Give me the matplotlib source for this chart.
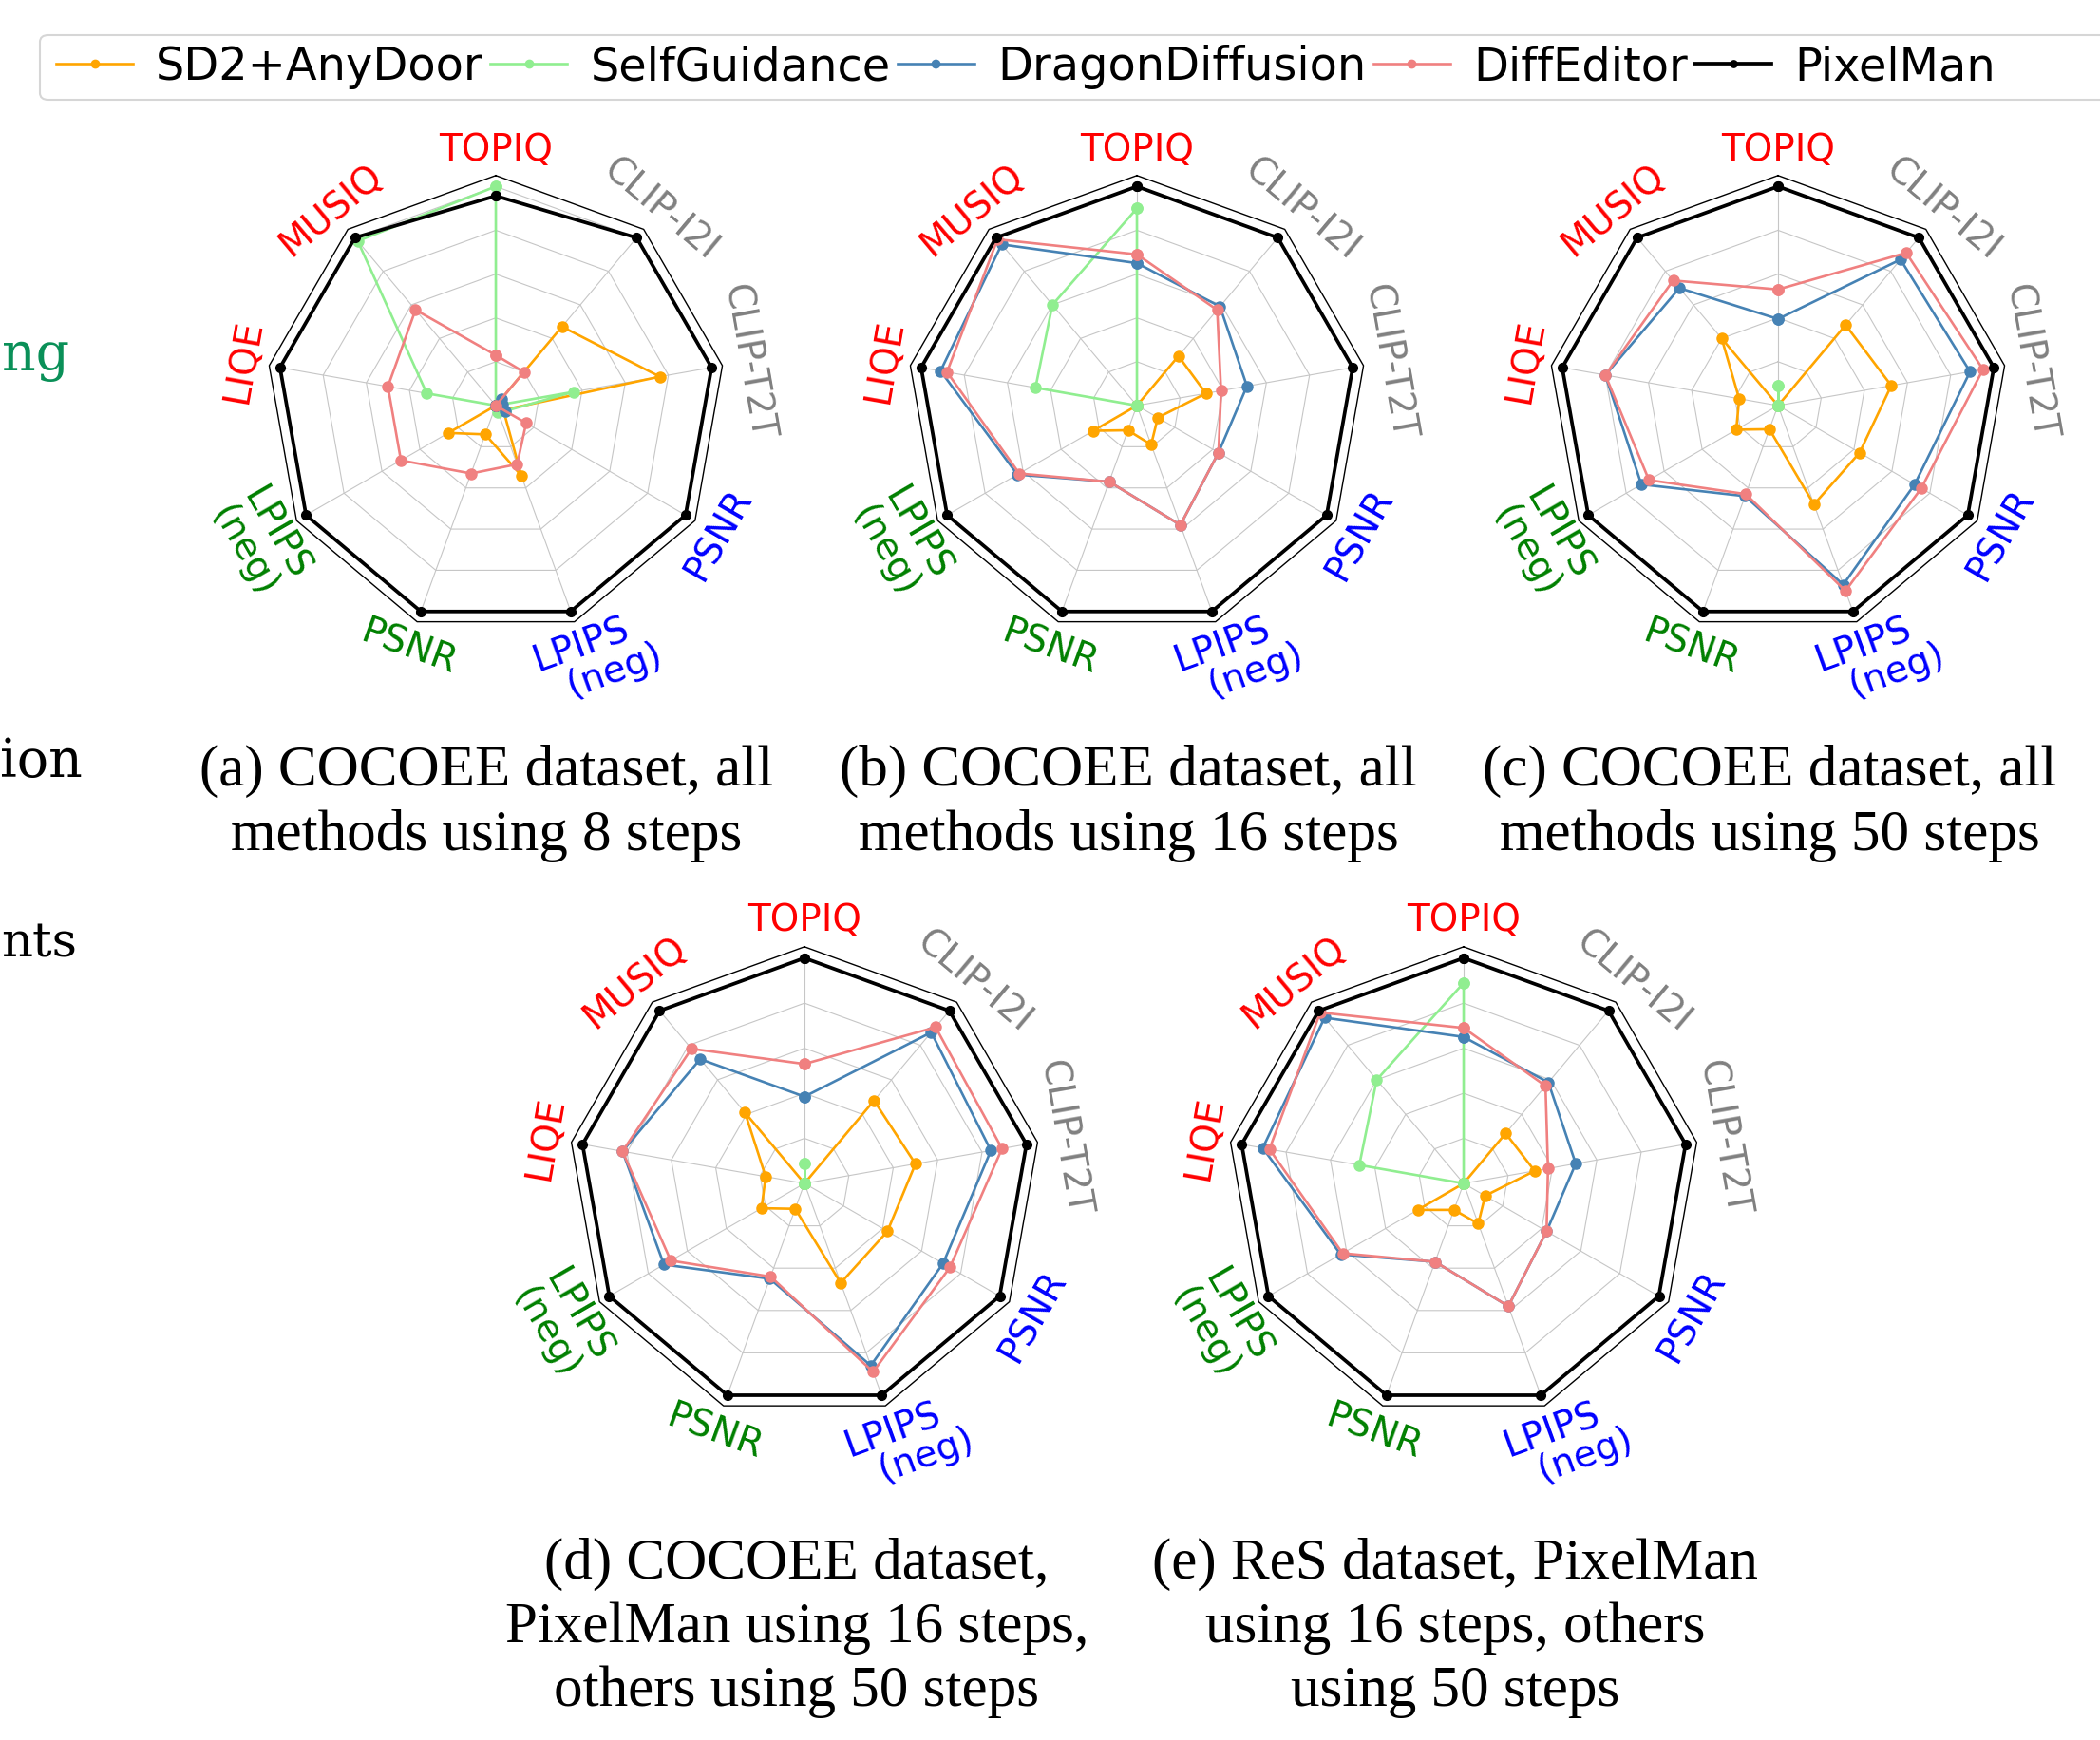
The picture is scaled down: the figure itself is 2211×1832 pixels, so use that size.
import numpy as np
import matplotlib
matplotlib.use("Agg")
import matplotlib.pyplot as plt
from matplotlib.patches import FancyBboxPatch

# axes of every radar, clockwise from the top
metrics = ["TOPIQ", "CLIP-I2I", "CLIP-T2T", "PSNR", "LPIPS\n  (neg)",
           "PSNR", "LPIPS\n(neg)", "LIQE", "MUSIQ"]
metric_colors = ["red", "gray", "gray", "blue", "blue", "green", "green", "red", "red"]

methods = ["SD2+AnyDoor", "SelfGuidance", "DragonDiffusion", "DiffEditor", "PixelMan"]
method_colors = ["orange", "lightgreen", "steelblue", "lightcoral", "black"]

# (a) COCOEE, 8 steps
a_anydoor = [0.0, 0.47, 0.76, 0.04, 0.34, 0.14, 0.25, 0.0, 0.0]
a_selfguid = [1.0, 0.0, 0.36, 0.05, 0.03, 0.0, 0.0, 0.32, 0.98]
a_dragon = [0.0, 0.04, 0.03, 0.05, 0.0, 0.0, 0.0, 0.0, 0.0]
a_diffedit = [0.23, 0.20, 0.0, 0.16, 0.285, 0.33, 0.50, 0.50, 0.57]
a_pixelman = [0.957, 1.0, 1.0, 1.0, 1.0, 1.0, 1.0, 1.0, 1.0]

# (b) COCOEE, 16 steps
b_anydoor = [0.0, 0.295, 0.32, 0.11, 0.19, 0.12, 0.23, 0.0, 0.0]
b_selfguid = [0.90, 0.0, 0.0, 0.0, 0.0, 0.0, 0.0, 0.47, 0.60]
b_dragon = [0.65, 0.59, 0.51, 0.43, 0.58, 0.37, 0.63, 0.91, 0.96]
b_diffedit = [0.69, 0.57, 0.39, 0.43, 0.58, 0.37, 0.62, 0.88, 0.99]
b_pixelman = [1.0, 1.0, 1.0, 1.0, 1.0, 1.0, 1.0, 1.0, 1.0]

# (c) COCOEE, 50 steps
c_anydoor = [0.0, 0.48, 0.525, 0.43, 0.48, 0.115, 0.22, 0.18, 0.40]
c_selfguid = [0.09, 0.0, 0.0, 0.0, 0.0, 0.0, 0.0, 0.0, 0.0]
c_dragon = [0.395, 0.87, 0.89, 0.72, 0.87, 0.44, 0.72, 0.80, 0.70]
c_diffedit = [0.53, 0.91, 0.95, 0.755, 0.90, 0.43, 0.68, 0.80, 0.745]
c_pixelman = [1.0, 1.0, 1.0, 1.0, 1.0, 1.0, 1.0, 1.0, 1.0]

# (d) COCOEE, PixelMan 16 / others 50
d_anydoor = [0.0, 0.48, 0.50, 0.425, 0.47, 0.12, 0.22, 0.175, 0.41]
d_selfguid = [0.09, 0.0, 0.0, 0.0, 0.0, 0.0, 0.0, 0.0, 0.0]
d_dragon = [0.385, 0.875, 0.84, 0.71, 0.86, 0.45, 0.72, 0.82, 0.72]
d_diffedit = [0.53, 0.905, 0.89, 0.745, 0.89, 0.44, 0.685, 0.82, 0.78]
d_pixelman = [1.0, 1.0, 1.0, 1.0, 1.0, 1.0, 1.0, 1.0, 1.0]

# (e) ReS, PixelMan 16 / others 50
e_anydoor = [0.0, 0.29, 0.32, 0.11, 0.19, 0.125, 0.235, 0.0, 0.0]
e_selfguid = [0.89, 0.0, 0.0, 0.0, 0.0, 0.0, 0.0, 0.47, 0.60]
e_dragon = [0.65, 0.585, 0.505, 0.425, 0.58, 0.37, 0.63, 0.905, 0.96]
e_diffedit = [0.69, 0.565, 0.38, 0.425, 0.58, 0.37, 0.62, 0.875, 0.99]
e_pixelman = [1.0, 1.0, 1.0, 1.0, 1.0, 1.0, 1.0, 1.0, 1.0]

captions = [
    "(a) COCOEE dataset, all\nmethods using 8 steps",
    "(b) COCOEE dataset, all\nmethods using 16 steps",
    "(c) COCOEE dataset, all\nmethods using 50 steps",
    "(d) COCOEE dataset,\nPixelMan using 16 steps,\nothers using 50 steps",
    "(e) ReS dataset, PixelMan\nusing 16 steps, others\nusing 50 steps",
]

W, H = 2211, 1833
fig = plt.figure(figsize=(W / 100, H / 100), dpi=100, facecolor="white")

RMAX = 1.05


def radar(cx, cy, r1, series):
    half = RMAX * r1
    ax = fig.add_axes([(cx - half) / W, 1 - (cy + half) / H, 2 * half / W, 2 * half / H],
                      projection="polar")
    n = len(metrics)
    ang = np.linspace(0, 2 * np.pi, n, endpoint=False)
    ang_c = np.append(ang, ang[0])
    ax.set_theta_offset(np.pi / 2)
    ax.set_theta_direction(-1)
    ax.set_ylim(0, RMAX)
    ax.axis("off")

    # polygon grid + frame
    for r in [0.2, 0.4, 0.6, 0.8, 1.0]:
        ax.plot(ang_c, [r] * (n + 1), color="#c6c6c6", lw=0.8, zorder=1)
    for a in ang:
        ax.plot([a, a], [0, 1.0], color="#c6c6c6", lw=0.8, zorder=1)
    ax.plot(ang_c, [RMAX] * (n + 1), color="black", lw=1.0, clip_on=False, zorder=1)

    for vals, col, name in zip(series, method_colors, methods):
        v = np.append(vals, vals[0])
        if name == "PixelMan":
            ax.plot(ang_c, v, color=col, lw=2.7, marker="o", ms=7,
                    label=name, clip_on=False, zorder=5)
        else:
            ax.plot(ang_c, v, color=col, lw=1.9, marker="o", ms=8,
                    label=name, clip_on=False, zorder=3)

    for a, lab, col in zip(ang, metrics, metric_colors):
        deg = (90 - np.degrees(a) + 180) % 360 - 180
        rot = deg - 90 if deg > 0 else deg + 90
        rad = 1.24 if "\n" in lab else 1.17
        shift = -0.035 if "  (neg)" in lab else 0.0
        ax.text(a + shift, rad, lab, color=col, rotation=rot, rotation_mode="anchor",
                ha="center", va="center", multialignment="left",
                fontsize=28, linespacing=1.0)
    return ax


ax_a = radar(522, 428, 230.7, [a_anydoor, a_selfguid, a_dragon, a_diffedit, a_pixelman])
radar(1197, 428, 230.7, [b_anydoor, b_selfguid, b_dragon, b_diffedit, b_pixelman])
radar(1872, 428, 230.7, [c_anydoor, c_selfguid, c_dragon, c_diffedit, c_pixelman])
radar(847, 1247, 237.3, [d_anydoor, d_selfguid, d_dragon, d_diffedit, d_pixelman])
radar(1541, 1247, 237.3, [e_anydoor, e_selfguid, e_dragon, e_diffedit, e_pixelman])

# captions under each radar
cap_pos = [(512, 846), (1188, 846), (1863, 846), (839, 1714), (1532, 1714)]
for (x, y), txt in zip(cap_pos, captions):
    fig.text(x / W, 1 - y / H, txt, ha="center", va="center", fontsize=44,
             family="Liberation Serif", linespacing=1.28)

# legend across the top
handles, labels = ax_a.get_legend_handles_labels()
fig.legend(handles, labels, loc="center left", bbox_to_anchor=(42 / W, 1 - 71 / H),
           ncol=5, fontsize=34.5, handlelength=1.7, handletextpad=0.5,
           columnspacing=0.15, borderpad=0.35, borderaxespad=0, frameon=False,
           markerscale=0.75)
fig.patches.append(FancyBboxPatch((42 / W, 1 - 106 / H), (2260 - 42) / W, 68 / H,
                                  boxstyle="round,pad=0,rounding_size=0.004",
                                  transform=fig.transFigure, facecolor="none",
                                  edgecolor="#d6d6d6", lw=1.5))

# cut-off text from the neighbouring page column
fig.text(73 / W, 1 - 390 / H, "ng", ha="right", va="baseline", color="#0a9058",
         family="DejaVu Serif", fontsize=40)
fig.text(87 / W, 1 - 818 / H, "ion", ha="right", va="baseline", color="black",
         family="DejaVu Serif", fontsize=40)
fig.text(1 / W, 1 - 1008 / H, "nts", ha="left", va="baseline", color="black",
         family="DejaVu Serif", fontsize=37)

fig.savefig("out.png", dpi=100, facecolor="white")
